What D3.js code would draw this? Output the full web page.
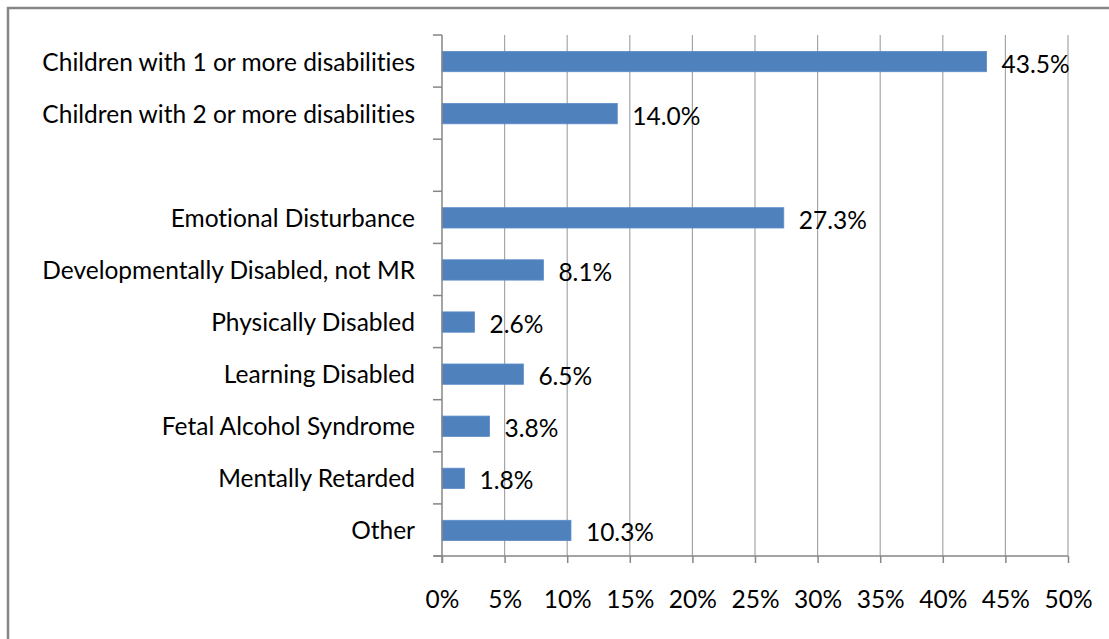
<!DOCTYPE html>
<html>
<head>
<meta charset="utf-8">
<script src="https://cdn.jsdelivr.net/npm/d3@7"></script>
<style>
  html, body { margin: 0; padding: 0; background: #fff; }
  svg { display: block; }
  text { font-family: Lato, "Open Sans", sans-serif; fill: #000; font-variant-ligatures: none; font-feature-settings: "liga" 0, "clig" 0; }
</style>
</head>
<body>
<svg id="chart" width="1109" height="639"></svg>
<script>
const categories = [
  "Children with 1 or more disabilities",
  "Children with 2 or more disabilities",
  " ",
  "Emotional Disturbance",
  "Developmentally Disabled, not MR",
  "Physically Disabled",
  "Learning Disabled",
  "Fetal Alcohol Syndrome",
  "Mentally Retarded",
  "Other"
];
const values = [43.5, 14.0, null, 27.3, 8.1, 2.6, 6.5, 3.8, 1.8, 10.3];
const xTicks = [0, 5, 10, 15, 20, 25, 30, 35, 40, 45, 50];

(function () {
const FS = 24.5;
const data = categories.map((c, i) => ({ cat: c, v: values[i] }));

const svg = d3.select("#chart");
const W = 1109, H = 639;
const pLeft = 442, pRight = 1068, pTop = 35, pBottom = 556;

// outer border
svg.append("rect")
  .attr("x", 8).attr("y", 8)
  .attr("width", W + 20).attr("height", H + 20)
  .attr("fill", "none").attr("stroke", "#868686").attr("stroke-width", 2.5);

const x = d3.scaleLinear().domain([0, 50]).range([pLeft, pRight]);
const y = d3.scaleBand().domain(categories).range([pTop, pBottom]).paddingInner(0.61).paddingOuter(0.305);
const yTicks = d3.scaleBand().domain(categories).range([pTop, pBottom]);

// gridlines
svg.append("g").selectAll("line")
  .data(xTicks.filter(t => t > 0))
  .join("line")
  .attr("x1", d => x(d)).attr("x2", d => x(d))
  .attr("y1", pTop).attr("y2", pBottom)
  .attr("stroke", "#a6a6a6").attr("stroke-width", 1.2);

// bars
svg.append("g").selectAll("rect")
  .data(data.filter(d => d.v != null))
  .join("rect")
  .attr("x", x(0))
  .attr("y", d => y(d.cat) + 0.5)
  .attr("width", d => x(d.v) - x(0))
  .attr("height", y.bandwidth())
  .attr("fill", "#4f81bd")
  .attr("stroke", "#5b8dc8").attr("stroke-width", 0.8);

// y axis
const yAxisG = svg.append("g").attr("transform", `translate(${pLeft},0)`);
yAxisG.append("line")
  .attr("x1", 0).attr("x2", 0).attr("y1", pTop).attr("y2", pBottom + 7)
  .attr("stroke", "#868686").attr("stroke-width", 1.5);
const yTickPos = categories.map(c => yTicks(c)).concat([pBottom]);
yAxisG.selectAll("line.tick")
  .data(yTickPos)
  .join("line").attr("class", "tick")
  .attr("x1", -9).attr("x2", 0)
  .attr("y1", d => d).attr("y2", d => d)
  .attr("stroke", "#868686").attr("stroke-width", 1.5);
svg.append("g").selectAll("text")
  .data(categories)
  .join("text")
  .attr("x", 415)
  .attr("y", d => yTicks(d) + yTicks.bandwidth() / 2)
  .attr("text-anchor", "end")
  .attr("dominant-baseline", "central")
  .attr("font-size", FS)
  .text(d => d.trim());

// x axis
const xAxis = d3.axisBottom(x).tickValues(xTicks).tickSize(7).tickPadding(28).tickFormat(d => d + "%");
const xg = svg.append("g").attr("transform", `translate(0,${pBottom})`).call(xAxis);
xg.select(".domain").remove();
xg.append("line").attr("x1", pLeft - 8).attr("x2", pRight).attr("y1", 0).attr("y2", 0)
  .attr("stroke", "#868686").attr("stroke-width", 1.5);
xg.selectAll(".tick line").attr("stroke", "#868686").attr("stroke-width", 1.5);
xg.selectAll(".tick text").attr("font-size", FS).attr("font-family", "Lato, 'Open Sans', sans-serif").attr("fill", "#000");

// value labels
svg.append("g").selectAll("text")
  .data(data.filter(d => d.v != null))
  .join("text")
  .attr("x", d => x(d.v) + 15)
  .attr("y", d => y(d.cat) + y.bandwidth() / 2 + 2)
  .attr("dominant-baseline", "central")
  .attr("font-size", FS)
  .text(d => d.v.toFixed(1) + "%");
})();
</script>
</body>
</html>
